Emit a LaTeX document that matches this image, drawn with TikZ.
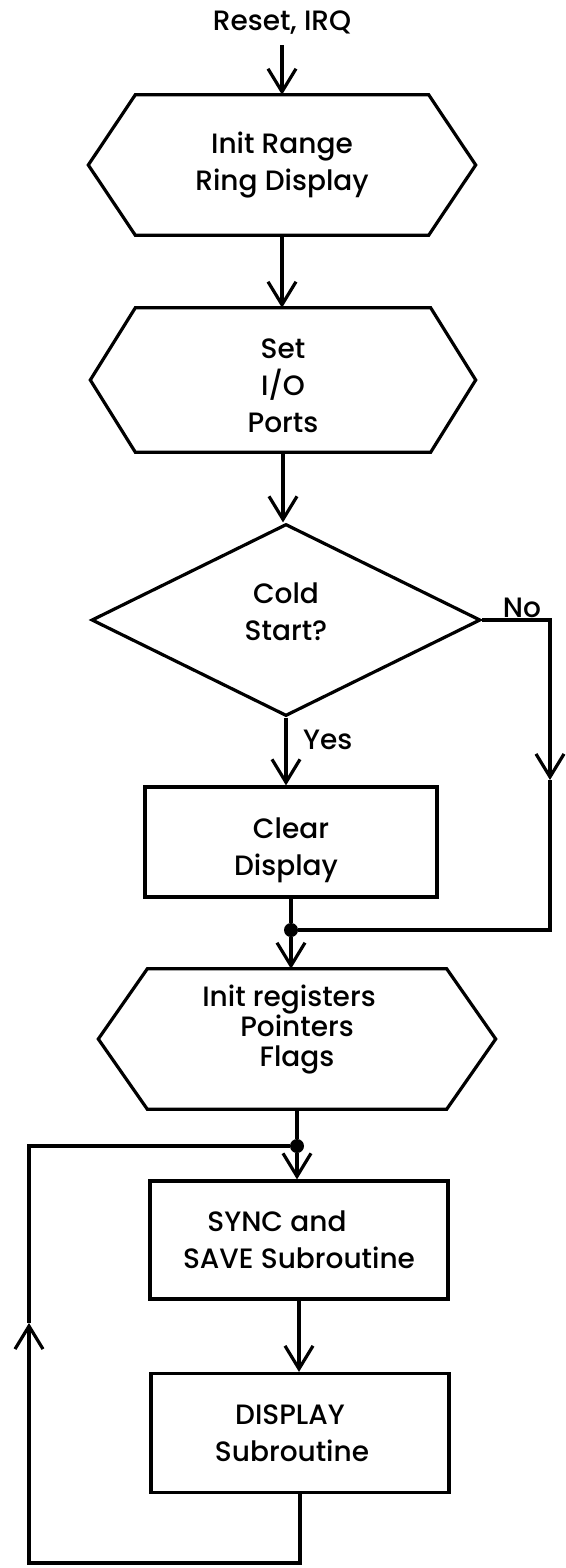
\documentclass[tikz,border=0pt]{standalone}
\usepackage{fontspec}
\setmainfont{Poppins Medium}
\usetikzlibrary{arrows.meta,shapes.geometric,calc}

\tikzset{
  x=1pt, y=-1pt,
  flow/.style={line width=3.2pt, line join=miter},
  vtip/.tip={Straight Barb[length=23pt,width=28pt,line width=3.2pt]},
  arr/.style={flow,-vtip},
  txt/.style={font=\fontsize{28}{37}\selectfont, align=center},
  lbl/.style={font=\fontsize{28}{30}\selectfont, inner sep=2pt},
  hexbox/.style={txt, inner sep=0pt, minimum width=#1},
  procbox/.style={txt, draw, flow, inner sep=0pt, minimum width=298pt},
  dot/.style={circle, fill, inner sep=0pt, minimum size=14pt},
}

% hexagonal preparation outline around a rectangular node
\newcommand\hexoutline[2]{%
  \draw[flow] (#1.north west) -- (#1.north east) -- ($(#1.east)+(#2,0)$)
    -- (#1.south east) -- (#1.south west) -- ($(#1.west)+(-#2,0)$) -- cycle;}

\begin{document}
\begin{tikzpicture}
\useasboundingbox (0,0) rectangle (565,1568);

% entry
\node[lbl] (start) at (282,23) {Reset, IRQ};

% initialisation steps
\node[hexbox=293pt, minimum height=140pt] (h1) at (282,165) {Init Range\\Ring Display};
\hexoutline{h1}{47}

\node[hexbox=295pt, minimum height=144pt] (h2) at (283,380)
  {\mbox{}\\[-5pt]Set\\I/O\\Ports};
\hexoutline{h2}{45}

\node[diamond, draw, flow, txt, inner sep=0pt, aspect=2,
      minimum width=389pt, minimum height=192pt] (dia) at (286,620)
  {Cold\\Start?\\[-20pt]\mbox{}};

\node[procbox, minimum width=292pt, minimum height=110pt] (r1) at (291,842)
  {\mbox{}\\Clear\hspace*{10pt}\\Display\hspace*{10pt}};

\node[dot] (dot1) at (291,930) {};

\node[hexbox=299pt, minimum height=140pt, font=\fontsize{28}{30}\selectfont]
  (h3) at (297,1039)
  {Init registers\hspace*{16pt}\\Pointers\hspace*{16pt}\\Flags\hspace*{16pt}\\[-4pt]\mbox{}};
\hexoutline{h3}{49}

\node[dot] (dot2) at (297,1146) {};

% main loop
\node[procbox, minimum height=118pt] (r2) at (299,1240)
  {SYNC and\hspace*{44pt}\\SAVE Subroutine};
\node[procbox, minimum height=119pt] (r3) at (300,1433)
  {DISPLAY\hspace*{20pt}\\Subroutine\hspace*{16pt}};

% branch labels
\node[lbl, anchor=west] (yes) at (301,740) {Yes};
\node[lbl, anchor=base, inner sep=0pt] (no) at (522,617) {No};

% routing points
\coordinate (nocorner) at (550,620);
\coordinate (notip) at (550,780);
\coordinate (nobottom) at (550,930);
\coordinate (lbr) at (300,1563);
\coordinate (lbl) at (29,1563);
\coordinate (ltip) at (29,1323);
\coordinate (ltop) at (29,1146);

% main flow
\draw[arr, shorten <=8pt] (start.south) -- (start.south |- h1.north);
\draw[arr] (h1.south) -- (h1.south |- h2.north);
\draw[arr] (h2.south) -- (h2.south |- dia.north);
\draw[arr] (dia.south) -- (dia.south |- r1.north);
\draw[flow] (r1.south) -- (dot1);
\draw[arr] (dot1) -- (dot1 |- h3.north);
\draw[flow] (h3.south) -- (dot2);
\draw[arr] (dot2) -- (dot2 |- r2.north);
\draw[arr] (r2.south) -- (r2.south |- r3.north);

% "No" branch skips the clear step
\draw[arr] (dia.east) -- (nocorner) -- (notip);
\draw[flow] (notip) -- (nobottom) -- (dot1);

% loop back to the sync step
\draw[arr] (r3.south) -- (lbr) -- (lbl) -- (ltip);
\draw[flow] (ltip) -- (ltop) -- (dot2);
\end{tikzpicture}
\end{document}
